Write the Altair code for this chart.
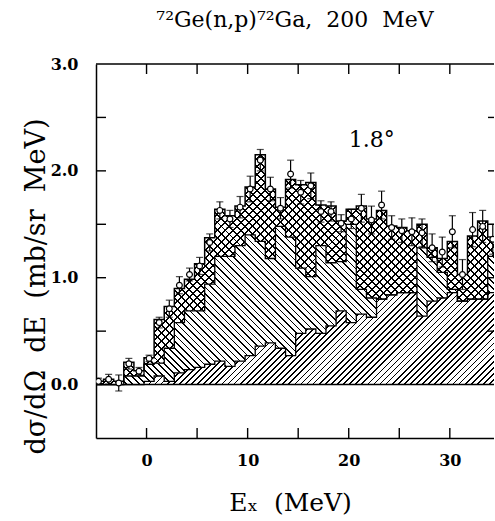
import math
import altair as alt
import pandas as pd

# ---------------- data ----------------
bin_left = [-5.25, -4.25, -3.25, -2.25, -1.25, -0.25, 0.75, 1.75, 2.75, 3.75,
            4.75, 5.75, 6.75, 7.75, 8.75, 9.75, 10.75, 11.75, 12.75, 13.75,
            14.75, 15.75, 16.75, 17.75, 18.75, 19.75, 20.75, 21.75, 22.75, 23.75,
            24.75, 25.75, 26.75, 27.75, 28.75, 29.75, 30.75, 31.75, 32.75, 33.75]
bin_right_end = 34.75
e_center = [-4.75, -3.75, -2.75, -1.75, -0.75, 0.25, 1.25, 2.25, 3.25, 4.25,
            5.25, 6.25, 7.25, 8.25, 9.25, 10.25, 11.25, 12.25, 13.25, 14.25,
            15.25, 16.25, 17.25, 18.25, 19.25, 20.25, 21.25, 22.25, 23.25, 24.25,
            25.25, 26.25, 27.25, 28.25, 29.25, 30.25, 31.25, 32.25, 33.25, 34.25]
# top of the histogram (cross-hatched component top)
total = [0.03, 0.05, 0.03, 0.21, 0.13, 0.25, 0.61, 0.73, 0.90, 0.985,
         1.13, 1.375, 1.64, 1.58, 1.67, 1.85, 2.15, 1.83, 1.66, 1.92,
         1.87, 1.89, 1.68, 1.67, 1.53, 1.64, 1.67, 1.55, 1.63, 1.485,
         1.47, 1.44, 1.50, 1.28, 1.18, 1.34, 1.03, 1.39, 1.53, 1.38]
# top of the back-hatched ("\") component
middle = [0.0, 0.0, 0.0, 0.08, 0.08, 0.19, 0.20, 0.34, 0.58, 0.69,
          0.69, 0.94, 1.20, 1.20, 1.30, 1.40, 1.34, 1.18, 1.48, 1.38,
          1.09, 1.01, 1.30, 1.14, 1.15, 1.50, 0.89, 0.81, 0.80, 0.84,
          0.86, 0.86, 1.28, 1.19, 1.05, 0.89, 0.78, 0.80, 0.80, 1.20]
# top of the forward-hatched ("/") component
bottom = [0.0, 0.0, 0.0, 0.0, 0.0, 0.03, 0.08, 0.03, 0.11, 0.14,
          0.16, 0.19, 0.22, 0.17, 0.22, 0.27, 0.36, 0.39, 0.34, 0.27,
          0.48, 0.52, 0.48, 0.55, 0.69, 0.58, 0.66, 0.63, 0.80, 0.84,
          0.86, 0.86, 0.64, 0.78, 0.81, 0.86, 0.78, 0.80, 0.80, 0.86]
# measured points with errors
points = [0.03, 0.05, 0.015, 0.195, 0.125, 0.245, 0.58, 0.71, 0.93, 1.03,
          1.11, 1.33, 1.63, 1.55, 1.66, 1.83, 2.10, 1.83, 1.65, 1.97,
          1.80, 1.86, 1.62, 1.62, 1.51, 1.55, 1.65, 1.54, 1.68, 1.47,
          1.44, 1.43, 1.42, 1.28, 1.24, 1.43, 1.03, 1.45, 1.48, 1.36]
errors = [0.03, 0.045, 0.075, 0.05, 0.035, 0.03, 0.05, 0.08, 0.08, 0.06,
          0.08, 0.08, 0.08, 0.08, 0.10, 0.12, 0.10, 0.11, 0.10, 0.13,
          0.11, 0.12, 0.10, 0.09, 0.08, 0.09, 0.13, 0.13, 0.13, 0.11,
          0.11, 0.13, 0.13, 0.13, 0.14, 0.15, 0.14, 0.16, 0.15, 0.14]

x_tick_vals = [0, 5, 10, 15, 20, 25, 30]
y_tick_vals = [0.5, 1.0, 1.5, 2.0, 2.5]
x_label_vals = [0, 10, 20, 30]
y_label_vals = [0.0, 1.0, 2.0, 3.0]
NB = "\u00a0"
title_text = "\u2077\u00b2Ge(n,p)\u2077\u00b2Ga," + NB * 2 + "200" + NB * 2 + "MeV"
x_title = "E\u2093" + NB * 2 + "(MeV)"
y_title = ("d\u03c3/d\u03a9" + NB * 2 + "dE" + NB * 2 + "(mb/sr" + NB * 2
           + "MeV)")
angle_text = ["1.8\u00b0"]
angle_x = [20.0]
angle_y = [2.22]

# ---------------- layout ----------------
W, H = 398, 374
XMIN, XMAX = -5.0, 34.37
YMIN, YMAX = -0.5, 3.0
kx = W / (XMAX - XMIN)
ky = H / (YMAX - YMIN)
SERIF = "DejaVu Serif"

xs = alt.Scale(domain=[XMIN, XMAX], nice=False, zero=False)
ys = alt.Scale(domain=[YMIN, YMAX], nice=False, zero=False)
xax = alt.Axis(values=x_label_vals, format="d", grid=False, ticks=False,
               domain=True, domainColor="black", domainWidth=1.5,
               labelFont=SERIF, labelFontSize=16, labelFontWeight="bold",
               labelColor="black", labelPadding=14,
               title=x_title, titleFont=SERIF, titleFontSize=25,
               titleFontWeight="normal", titleColor="black",
               titleX=194, titleY=72, titleAlign="center",
               titleBaseline="alphabetic")
yax = alt.Axis(values=y_label_vals, format=".1f", grid=False, ticks=False,
               domain=True, domainColor="black", domainWidth=1.5,
               labelFont=SERIF, labelFontSize=16, labelFontWeight="bold",
               labelColor="black", labelPadding=18,
               title=y_title, titleFont=SERIF, titleFontSize=27,
               titleFontWeight="normal", titleColor="black",
               titleX=-52, titleY=222, titleAngle=270, titleAlign="center",
               titleBaseline="alphabetic")


def X(f):
    return alt.X(f, type="quantitative", scale=xs, axis=xax)


def Y(f):
    return alt.Y(f, type="quantitative", scale=ys, axis=yax)


def hatch(kind, bw, bh, period, lw, ink="black", gap="white"):
    c = (bw + bh) / (bw * bw + bh * bh)
    if kind == "fwd":
        x1, y1, x2, y2 = 0.0, 0.0, c * bw, c * bh
    else:
        x1, y1, x2, y2 = 0.0, 1.0, c * bw, 1.0 - c * bh
    dt = period * math.sqrt(2) / (bw + bh)
    ft = lw * math.sqrt(2) / (bw + bh)
    stops = []
    t = 0.0
    while t < 1.0:
        a = round(t, 6)
        b = round(min(t + ft, 1.0), 6)
        e = round(min(t + dt, 1.0), 6)
        stops += [alt.GradientStop(color=ink, offset=a),
                  alt.GradientStop(color=ink, offset=b),
                  alt.GradientStop(color=gap, offset=b),
                  alt.GradientStop(color=gap, offset=e)]
        t += dt
    return alt.LinearGradient(gradient="linear", x1=x1, y1=y1, x2=x2, y2=y2,
                              stops=stops)


n = len(bin_left)
step = pd.DataFrame({
    "x": bin_left + [bin_right_end],
    "tot": total + [total[-1]],
    "mid": middle + [middle[-1]],
    "bot": bottom + [bottom[-1]],
    "zero": [0.0] * (n + 1),
})
pts = pd.DataFrame({
    "x": e_center,
    "v": points,
    "lo": [p - e for p, e in zip(points, errors)],
    "hi": [p + e for p, e in zip(points, errors)],
})

aw = (bin_right_end - bin_left[0]) * kx
h_bot = (max(bottom) - 0.0) * ky
h_mid = (max(middle) - min(bottom)) * ky
h_top = (max(total) - min(middle)) * ky

base = alt.Chart(step)
area_bot = base.mark_area(interpolate="step-after", clip=True, strokeWidth=0,
                          fill=hatch("fwd", aw, h_bot, 4.3, 1.2)).encode(
    x=X("x"), y=Y("bot"), y2="zero")
area_mid = base.mark_area(interpolate="step-after", clip=True, strokeWidth=0,
                          fill=hatch("back", aw, h_mid, 4.6, 1.2)).encode(
    x=X("x"), y=Y("mid"), y2="bot")
area_top1 = base.mark_area(interpolate="step-after", clip=True, strokeWidth=0,
                           fill=hatch("fwd", aw, h_top, 5.6, 1.4)).encode(
    x=X("x"), y=Y("tot"), y2="mid")
area_top2 = base.mark_area(interpolate="step-after", clip=True, strokeWidth=0,
                           fill=hatch("back", aw, h_top, 5.6, 1.4,
                                      gap="rgba(255,255,255,0)")).encode(
    x=X("x"), y=Y("tot"), y2="mid")

line_tot = base.mark_line(interpolate="step-after", clip=True, color="black",
                          strokeWidth=1.5).encode(x=X("x"), y=Y("tot"))
line_mid = base.mark_line(interpolate="step-after", clip=True, color="black",
                          strokeWidth=1.3).encode(x=X("x"), y=Y("mid"))
line_bot = base.mark_line(interpolate="step-after", clip=True, color="black",
                          strokeWidth=1.3).encode(x=X("x"), y=Y("bot"))

zero_rule = alt.Chart(pd.DataFrame({"y": [0.0]})).mark_rule(
    color="black", strokeWidth=1.5).encode(y=Y("y"))
top_rule = alt.Chart(pd.DataFrame({"y": [YMAX]})).mark_rule(
    color="black", strokeWidth=1.5).encode(y=Y("y"))

xt = alt.Chart(pd.DataFrame({"x": x_tick_vals}))
yt = alt.Chart(pd.DataFrame({"y": y_tick_vals}))
tick_b = xt.mark_rule(color="black", strokeWidth=1.4).encode(
    x=X("x"), y=alt.value(H), y2=alt.value(H - 10))
tick_t = xt.mark_rule(color="black", strokeWidth=1.4).encode(
    x=X("x"), y=alt.value(0), y2=alt.value(10))
tick_l = yt.mark_rule(color="black", strokeWidth=1.4).encode(
    y=Y("y"), x=alt.value(0), x2=alt.value(10))
tick_r = yt.mark_rule(color="black", strokeWidth=1.4).encode(
    y=Y("y"), x=alt.value(W - 6), x2=alt.value(W))

pc = alt.Chart(pts)
err = pc.mark_rule(color="black", strokeWidth=1.2, clip=True).encode(
    x=X("x"), y=Y("lo"), y2="hi")
cap_hi = pc.mark_tick(orient="horizontal", color="black", size=7,
                      thickness=1.2, clip=True).encode(x=X("x"), y=Y("hi"))
cap_lo = pc.mark_tick(orient="horizontal", color="black", size=7,
                      thickness=1.2, clip=True).encode(x=X("x"), y=Y("lo"))
dots = pc.mark_point(shape="circle", filled=True, fill="white",
                     stroke="black", strokeWidth=1.2, size=34, opacity=1,
                     clip=True).encode(x=X("x"), y=Y("v"))

label = alt.Chart(pd.DataFrame({"x": angle_x, "y": angle_y,
                                "t": angle_text})).mark_text(
    align="left", baseline="alphabetic", font=SERIF, fontSize=22,
    color="black").encode(x=X("x"), y=Y("y"), text="t:N")

chart = alt.layer(
    area_bot, area_mid, area_top1, area_top2,
    line_bot, line_mid, line_tot,
    zero_rule, top_rule, tick_b, tick_t, tick_l, tick_r,
    err, cap_hi, cap_lo, dots, label,
).properties(
    width=W, height=H,
    title=alt.TitleParams(text=title_text, font=SERIF, fontSize=22,
                          fontWeight="normal", color="black",
                          anchor="middle", frame="group", offset=7,
                          baseline="alphabetic"),
    autosize=alt.AutoSizeParams(type="none"),
    padding={"left": 96, "top": 64, "right": 0, "bottom": 79},
    background="white",
).configure_view(stroke=None)

chart.save("out.html", embed_options={"renderer": "svg", "actions": False})
